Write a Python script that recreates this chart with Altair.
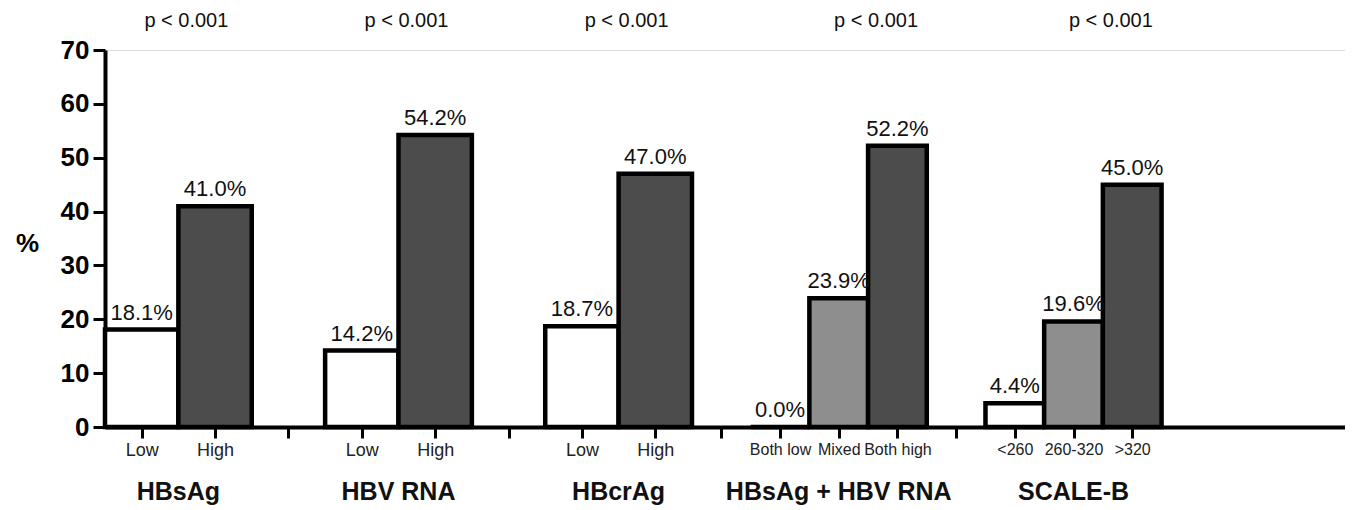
import altair as alt
import pandas as pd

# ---- data ----
groups = ["HBsAg", "HBV RNA", "HBcrAg", "HBsAg + HBV RNA", "SCALE-B"]
categories = [["Low", "High"], ["Low", "High"], ["Low", "High"],
              ["Both low", "Mixed", "Both high"], ["<260", "260-320", ">320"]]
values = [[18.1, 41.0], [14.2, 54.2], [18.7, 47.0], [0.0, 23.9, 52.2], [4.4, 19.6, 45.0]]
shades = [["low", "high"], ["low", "high"], ["low", "high"],
          ["low", "mid", "high"], ["low", "mid", "high"]]
p_values = ["p < 0.001", "p < 0.001", "p < 0.001", "p < 0.001", "p < 0.001"]
y_ticks = [0, 10, 20, 30, 40, 50, 60, 70]

# ---- layout of the category slots (relative widths) ----
slot_widths = [1.0, 1.0, 1.0, 0.8, 0.8]
gap_widths = [1.0, 1.0, 0.8, 0.8]
x_end = 16.9

bar_rows, group_rows = [], []
tick_vals, tick_labels = [], []
pos = 0.0
for gi, g in enumerate(groups):
    w = slot_widths[gi]
    g_start = pos
    last_start = pos
    for cat, val, sh in zip(categories[gi], values[gi], shades[gi]):
        start, end = pos, pos + w
        center = round((start + end) / 2, 3)
        bar_rows.append({"group": g, "cat": cat, "value": val, "shade": sh,
                         "start": round(start, 3), "end": round(end, 3),
                         "center": center, "label": f"{val:.1f}%"})
        tick_vals.append(center)
        tick_labels.append(cat)
        last_start = start
        pos = end
    group_rows.append({"group": g, "center": round((g_start + pos) / 2, 3),
                       "pstart": round(last_start, 3), "p": p_values[gi]})
    if gi < len(gap_widths):
        tick_vals.append(round(pos + gap_widths[gi] / 2, 3))
        tick_labels.append("")
        pos += gap_widths[gi]

bars_df = pd.DataFrame(bar_rows)
groups_df = pd.DataFrame(group_rows)

FONT = "Liberation Sans"
label_expr = ("[" + ",".join("'" + t + "'" for t in tick_labels) + "][indexof(["
              + ",".join(str(v) for v in tick_vals) + "], datum.value)]")
narrow_from = sum(slot_widths[:3]) * 2 + sum(gap_widths[:3])  # three-bar groups start here

x_scale = alt.Scale(domain=[0, x_end], nice=False, zero=False)
y_scale = alt.Scale(domain=[0, 70], nice=False)

x_axis = alt.Axis(values=tick_vals, labelExpr=label_expr, title=None, grid=False,
                  domainColor="black", domainWidth=4, tickColor="black", tickWidth=3,
                  tickSize=11, labelColor="#222222", labelPadding=3,
                  labelFontSize={"condition": {"test": f"datum.value > {narrow_from}", "value": 16},
                                 "value": 18},
                  labelFont=FONT, labelOverlap=False, labelFlush=False)
y_axis = alt.Axis(values=y_ticks, title="%", grid=False, domainColor="black", domainWidth=4,
                  tickColor="black", tickWidth=3, tickSize=12, labelFontSize=26,
                  labelFontWeight="bold", labelColor="black", labelPadding=4, labelFont=FONT,
                  titleAngle=0, titleFontSize=26, titleFontWeight="bold", titleFont=FONT,
                  titleColor="black", titleX=-78, titleY=193, titleAlign="center",
                  titleBaseline="middle")

bars = alt.Chart(bars_df).mark_rect(stroke="black", strokeWidth=4.5).encode(
    x=alt.X("start:Q", scale=x_scale, axis=x_axis),
    x2="end:Q",
    y=alt.Y("value:Q", scale=y_scale, axis=y_axis),
    y2=alt.datum(0),
    fill=alt.Fill("shade:N", legend=None,
                  scale=alt.Scale(domain=["low", "mid", "high"],
                                  range=["white", "#8e8e8e", "#4c4c4c"])),
)

bar_labels = alt.Chart(bars_df).mark_text(baseline="alphabetic", dy=-10, fontSize=22,
                                          font=FONT, color="#111111").encode(
    x=alt.X("center:Q", scale=x_scale),
    y=alt.Y("value:Q", scale=y_scale),
    text="label:N",
)

group_titles = alt.Chart(groups_df).mark_text(baseline="middle", fontSize=25, fontWeight="bold",
                                              font=FONT, color="#111111").encode(
    x=alt.X("center:Q", scale=x_scale),
    y=alt.value(442),
    text="group:N",
)

p_text = alt.Chart(groups_df).mark_text(baseline="alphabetic", fontSize=20, dx=8,
                                        font=FONT, color="#111111").encode(
    x=alt.X("pstart:Q", scale=x_scale),
    y=alt.value(-23),
    text="p:N",
)

chart = alt.layer(bars, bar_labels, group_titles, p_text).properties(
    width=1240, height=377,
    autosize=alt.AutoSizeParams(type="none"),
    padding={"left": 97, "top": 42, "right": 0, "bottom": 83},
).configure_view(stroke=None).configure(background="white")

chart.save("out.html", embed_options={"renderer": "svg", "actions": False})
